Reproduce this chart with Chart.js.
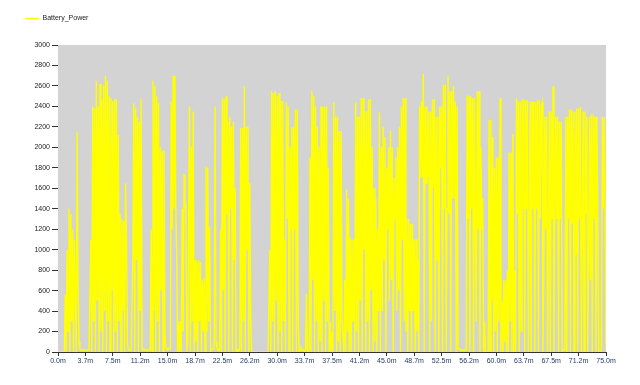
<!DOCTYPE html>
<html lang="en">
<head>
  <meta charset="UTF-8">
  <title>Battery_Power</title>
  <style>
    body { margin: 0; background: #fff; }
    #wrap { width: 640px; height: 385px; }
  </style>
  <script src="https://cdn.jsdelivr.net/npm/chart.js"></script>
</head>
<body>
  <div id="wrap"><canvas id="powerChart" width="640" height="385"></canvas></div>
  <script>
    const seriesName = 'Battery_Power';
    // minutes between two samples
    const stepMinutes = 0.125;

    // Battery_Power, one sample every 0.125 min
    const batteryPower = [
      0, 0, 0, 0, 0, 0, 0, 0,
      560, 0, 1000, 200, 1400, 0, 1350, 300, 1200, 0, 1100, 620, 0, 2150, 600, 100,
      20, 20, 20, 20, 20, 20, 20, 20, 20, 20, 20, 20,
      1100, 0, 2400, 300, 2380, 0, 2650, 500, 2400, 0, 2620, 200, 2470, 0, 2600, 400,
      2700, 0, 2650, 300, 2500, 0, 2480, 600, 2450, 0, 2470, 200, 2470, 0, 2120, 300,
      1350, 0, 1300, 400, 1280, 0, 1650, 1100,
      100, 20, 20, 20, 20, 20,
      900, 2430, 0, 2380, 900, 2300, 0, 2250, 400, 2470,
      20, 20, 30, 20, 20, 20, 20, 20, 20, 20,
      1200, 0, 2650, 400, 2600, 0, 2500, 300, 2430, 0, 2000, 600, 1970, 0, 1970, 200,
      40, 30, 20, 30, 40, 30,
      2450, 1200, 2700, 1400, 2700, 1400,
      900, 0, 300, 0, 300, 0,
      1400, 200, 1740, 1400, 1450, 0,
      100, 1200,
      2400, 0, 2000, 300, 2350, 0,
      900, 100, 880, 0, 900, 300, 880, 0, 700, 200, 720, 0,
      1810, 200, 1800, 300, 1220, 0,
      30, 30, 30, 30,
      2400, 100,
      40, 20, 20, 20,
      1200, 0, 2480, 600, 2470, 0, 2500, 1350, 2250, 0, 2300, 1400, 2200, 0, 2250, 900, 1600, 0,
      0, 20, 20, 20,
      2190, 0, 2190, 300, 2600, 0, 2200, 1000, 2200, 0, 1650, 300,
      0, 0, 0, 0, 0, 0, 0, 0, 0, 0, 0, 0, 0, 0, 0, 0, 0, 0, 0, 0,
      1000, 0, 2550, 300, 2530, 0, 2550, 500, 2500, 0, 2530, 200, 2450, 0, 2450, 300,
      1100, 0, 2440, 1300, 2400, 0, 2000, 1200, 2200, 0, 2200, 1200, 2370, 0, 2370, 300,
      0, 20, 40, 20, 20, 20, 0, 20, 570, 0,
      0, 20,
      1900, 0, 2550, 700, 2500, 0, 2400, 300, 2200, 0,
      2000, 100, 2400, 0, 2400, 500, 2400, 0, 2400, 300, 1800, 0, 300, 0,
      200, 0,
      2440, 400, 2300, 0, 2300, 100, 2160, 0, 2160, 300,
      300, 0, 700, 0,
      1590, 200, 1500, 0,
      1120, 0, 1100, 300, 1100, 0,
      2440, 200, 2300, 0, 2300, 500, 2480, 0, 2480, 1000, 2350, 0, 2350, 300, 2470, 0, 2470, 600, 2000, 0,
      1600, 100, 1500, 0, 1200, 400, 2340, 0, 2000, 400,
      2200, 900, 2100, 0, 1800, 1200, 2000, 500, 2160, 700, 2000, 0, 1700, 1300,
      1900, 400, 2000, 600, 2200, 0, 2400, 1100, 2480, 300, 2480, 200,
      1300, 0, 1300, 400, 1250, 0, 1250, 400, 1100, 0, 1100, 200, 900, 0,
      2400, 1700, 2450, 1700, 2720, 0, 2400, 1650,
      2400, 1700, 2350, 0, 2350, 300, 2470, 1600, 2470, 0, 2300, 900, 2300, 0, 2400, 1800, 2400, 0, 2610, 1400, 2610, 0,
      1400, 2700, 1350, 2550, 0, 2550, 1500, 2600, 1500, 2450, 0, 2400,
      30, 30, 30, 20, 20, 20, 20, 20, 20, 20,
      2510, 1300, 2500, 0, 2500, 1400, 2480, 0, 2480, 1300,
      300, 2550, 1200, 2550, 0, 2000, 1200, 1500, 0, 300,
      0, 0, 0, 0,
      2270, 0, 2270, 500, 2100, 0, 1800, 200,
      1900, 0, 1900, 300, 2480, 0,
      500, 0, 700, 100, 700, 0, 800, 0,
      1950, 300, 1950, 0, 2130, 0,
      800, 0, 2480, 1350, 2450, 0, 2450, 200, 2470, 1400, 2470, 0, 2460, 1400, 2460, 0,
      1300, 2450, 0, 2450, 1400, 2440, 0, 2440, 1400, 2460, 0, 2460, 1300, 2400,
      2440, 0, 800, 2300, 1200, 2300, 0, 1200, 2350, 0, 2350, 1300, 2600, 0,
      1350, 2300, 1300, 2300, 0, 2250, 1300, 2250,
      0, 20, 20, 20,
      2300, 0, 2300, 1300, 2370, 0, 2370, 1250, 2350, 0, 2350, 950, 2380, 0, 2380, 1300, 2400, 0,
      1300, 2350, 0, 2350, 1350, 2300, 0, 950, 2300, 700, 2320, 0, 2320, 1300, 2300, 0, 2300, 1400,
      0, 0, 0, 20,
      2300, 1400, 2300, 1500,
      30
    ];

    const xTickValues = [0, 3.75, 7.5, 11.25, 15, 18.75, 22.5, 26.25, 30, 33.75, 37.5,
                         41.25, 45, 48.75, 52.5, 56.25, 60, 63.75, 67.5, 71.25, 75];
    const xTickLabels = ['0.0m', '3.7m', '7.5m', '11.2m', '15.0m', '18.7m', '22.5m', '26.2m', '30.0m', '33.7m', '37.5m',
                         '41.2m', '45.0m', '48.7m', '52.5m', '56.2m', '60.0m', '63.7m', '67.5m', '71.2m', '75.0m'];

    const yMin = 0, yMax = 3000, yStep = 200;

    const points = batteryPower.map((v, i) => ({ x: i * stepMinutes, y: v }));

    // grey plot area
    const plotBackground = {
      id: 'plotBackground',
      beforeDraw(chart) {
        const { ctx, chartArea: a } = chart;
        ctx.save();
        ctx.fillStyle = '#d3d3d3';
        ctx.fillRect(a.left, a.top, a.right - a.left, a.bottom - a.top);
        ctx.restore();
      }
    };

    // reserve room under the legend so the plot starts lower
    const legendSpace = {
      id: 'legendSpace',
      beforeLayout(chart) {
        const legend = chart.legend;
        if (!legend || legend._patched) return;
        const fit = legend.fit;
        legend.fit = function () {
          fit.call(this);
          this.height = 40;
        };
        legend._patched = true;
      }
    };

    new Chart(document.getElementById('powerChart'), {
      type: 'line',
      data: {
        datasets: [{
          label: seriesName,
          data: points,
          borderColor: '#ffff00',
          backgroundColor: '#ffff00',
          borderWidth: 1.4,
          pointRadius: 0,
          tension: 0,
          pointStyle: 'line'
        }]
      },
      options: {
        responsive: false,
        animation: false,
        layout: { padding: { left: 15, top: 5, right: 34, bottom: 15 } },
        plugins: {
          tooltip: { enabled: false },
          legend: {
            position: 'top',
            align: 'start',
            labels: {
              usePointStyle: true,
              pointStyleWidth: 14,
              boxHeight: 7,
              padding: 10,
              color: '#222',
              font: { family: 'Liberation Sans, Arial, sans-serif', size: 7 },
              generateLabels(chart) {
                const items = Chart.defaults.plugins.legend.labels.generateLabels(chart);
                items.forEach(it => { it.lineWidth = 1.5; });
                return items;
              }
            }
          }
        },
        scales: {
          x: {
            type: 'linear',
            min: 0,
            max: 75,
            afterBuildTicks(scale) {
              scale.ticks = xTickValues.map(v => ({ value: v }));
            },
            afterFit(scale) { scale.height = 18; },
            grid: { drawOnChartArea: false, drawTicks: true, tickLength: 4, color: '#333' },
            border: { display: true, color: '#333', width: 1 },
            ticks: {
              autoSkip: false,
              maxRotation: 0,
              padding: 1,
              color: '#1f3a70',
              font: { family: 'Liberation Sans, Arial, sans-serif', size: 7 },
              callback: (v, i) => xTickLabels[i]
            }
          },
          y: {
            min: yMin,
            max: yMax,
            afterFit(scale) { scale.width = 43; },
            grid: { drawOnChartArea: false, drawTicks: true, tickLength: 6, color: '#333' },
            border: { display: false },
            ticks: {
              stepSize: yStep,
              padding: 2,
              color: '#222',
              font: { family: 'Liberation Sans, Arial, sans-serif', size: 7 },
              callback: v => String(v)
            }
          }
        }
      },
      plugins: [plotBackground, legendSpace]
    });
  </script>
</body>
</html>
